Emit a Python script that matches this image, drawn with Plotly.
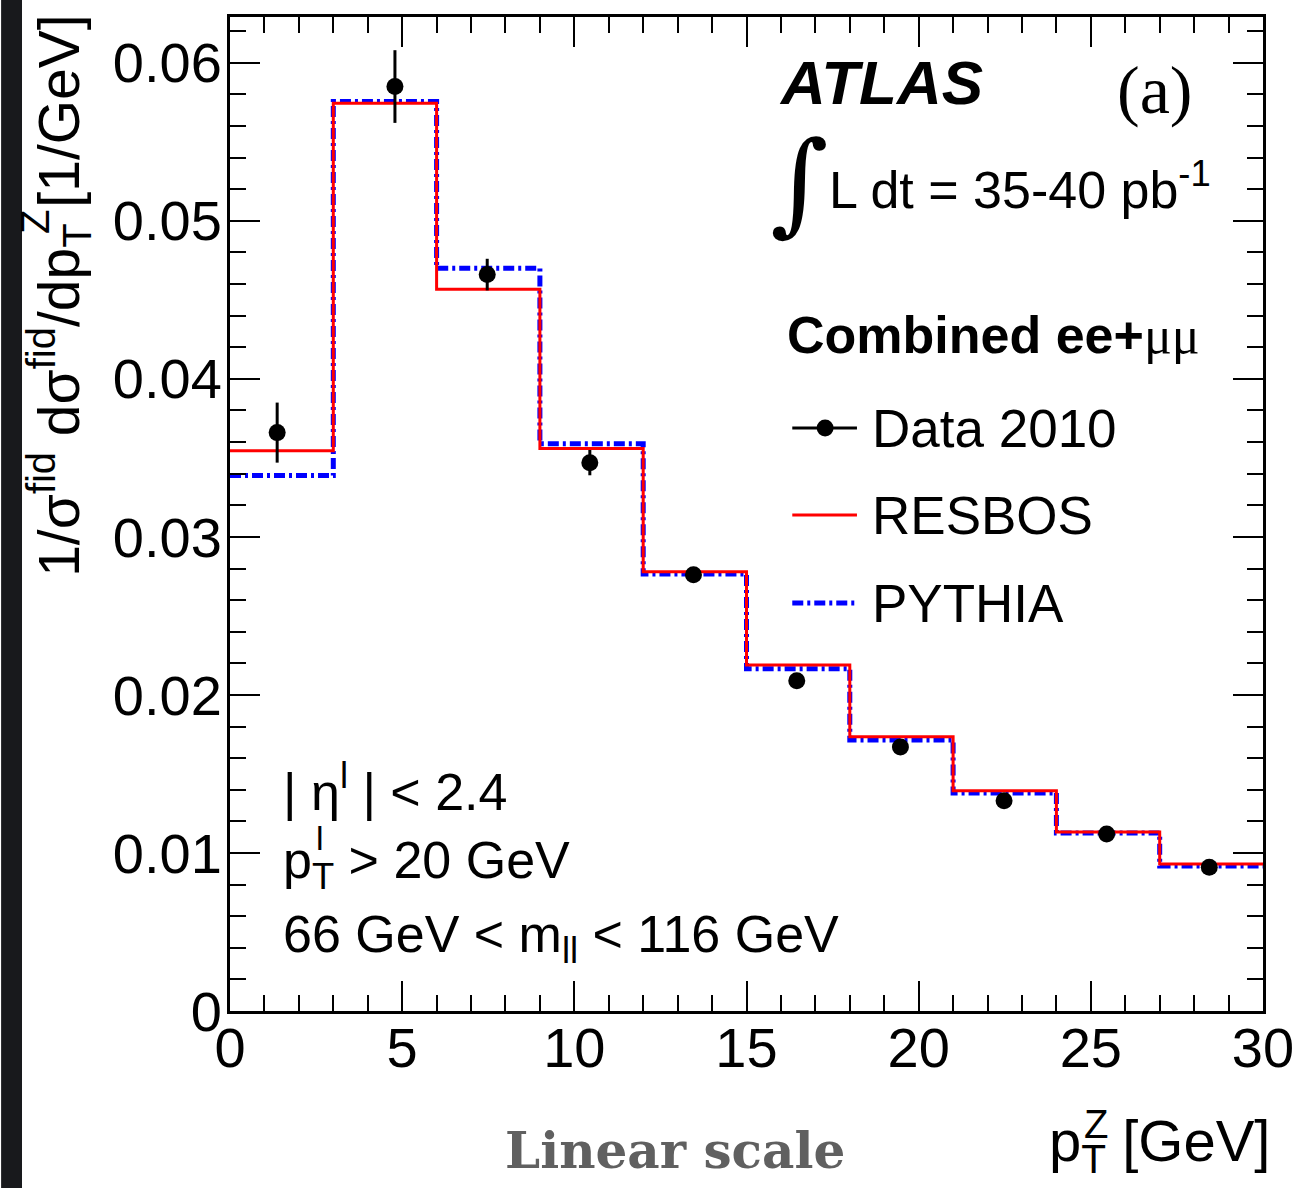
import plotly.graph_objects as go

# ---------------- data ----------------
bin_edges = [0, 3, 6, 9, 12, 15, 18, 21, 24, 27, 30]
data_x = [1.37, 4.79, 7.47, 10.45, 13.46, 16.46, 19.47, 22.48, 25.46, 28.44]
data_y = [0.0366, 0.0585, 0.0466, 0.0347, 0.0276, 0.0209, 0.0167, 0.0133, 0.0112, 0.0091]
data_err = [0.0019, 0.0023, 0.0010, 0.0008, 0.0005, 0.0003, 0.0002, 0.0002, 0.0002, 0.0002]
resbos = [0.03545, 0.05745, 0.04568, 0.03560, 0.02780, 0.02190, 0.01735, 0.01393, 0.01133, 0.00930]
pythia = [0.03388, 0.05755, 0.04700, 0.03590, 0.02765, 0.02165, 0.01715, 0.01380, 0.01127, 0.00918]

x_ticks = [0, 5, 10, 15, 20, 25, 30]
y_ticks = [0, 0.01, 0.02, 0.03, 0.04, 0.05, 0.06]
y_tick_text = ["0", "0.01", "0.02", "0.03", "0.04", "0.05", "0.06"]

W, H = 1306, 1188
L, R, T, B = 230, 1268, 17, 1011


def PX(px):
    return (px - L) / (R - L)


def PY(py):
    return (B - py) / (B - T)


SANS = "Liberation Sans, Arial, Helvetica, sans-serif"
SERIF = "Liberation Serif, Times New Roman, serif"

fig = go.Figure()

# PYTHIA (blue dash-dot) first, RESBOS on top
fig.add_trace(go.Scatter(
    x=bin_edges, y=pythia + [pythia[-1]], mode="lines", line_shape="hv",
    line=dict(color="#0000ff", width=5, dash="11px,4px,3px,4px"),
    name="PYTHIA", showlegend=False))
fig.add_trace(go.Scatter(
    x=bin_edges, y=resbos + [resbos[-1]], mode="lines", line_shape="hv",
    line=dict(color="#ff0000", width=3),
    name="RESBOS", showlegend=False))
fig.add_trace(go.Scatter(
    x=data_x, y=data_y, mode="markers",
    marker=dict(color="black", size=17),
    error_y=dict(type="data", array=data_err, visible=True, color="black", thickness=3, width=0),
    name="Data 2010", showlegend=False))

axis_common = dict(
    showgrid=False, zeroline=False, showline=True, linecolor="black", linewidth=3,
    mirror="ticks", ticks="inside", ticklen=30, tickwidth=2, tickcolor="black",
    tickfont=dict(family=SANS, size=56, color="black"),
)

fig.update_xaxes(
    range=[0, 30], tickvals=x_ticks, ticktext=[str(v) for v in x_ticks],
    minor=dict(ticks="inside", ticklen=16, tickwidth=2, tickcolor="black", dtick=1),
    ticklabelstandoff=-14,
    **axis_common)
fig.update_yaxes(
    range=[0, 0.0629], tickvals=y_ticks, ticktext=y_tick_text,
    minor=dict(ticks="inside", ticklen=16, tickwidth=2, tickcolor="black", dtick=0.002),
    ticklabelstandoff=-6,
    **axis_common)

shapes = []
# dark strip at left edge
shapes.append(dict(type="rect", xref="paper", yref="paper",
                   x0=PX(0), x1=PX(21), y0=PY(H), y1=PY(0),
                   fillcolor="#18191c", line=dict(width=0)))
# legend samples
shapes.append(dict(type="line", xref="paper", yref="paper",
                   x0=PX(795), x1=PX(860), y0=PY(428), y1=PY(428),
                   line=dict(color="black", width=3)))
shapes.append(dict(type="circle", xref="paper", yref="paper",
                   x0=PX(819.5), x1=PX(836.5), y0=PY(436.5), y1=PY(419.5),
                   fillcolor="black", line=dict(color="black", width=0)))
shapes.append(dict(type="line", xref="paper", yref="paper",
                   x0=PX(795), x1=PX(860), y0=PY(515), y1=PY(515),
                   line=dict(color="#ff0000", width=3)))
shapes.append(dict(type="line", xref="paper", yref="paper",
                   x0=PX(795), x1=PX(860), y0=PY(603), y1=PY(603),
                   line=dict(color="#0000ff", width=5, dash="11px,4px,3px,4px")))

ann = []


def txt(text, px, py, size=52, family=SANS, xanchor="left", yanchor="middle", color="black", angle=0):
    ann.append(dict(text=text, x=PX(px), y=PY(py), xref="paper", yref="paper",
                    xanchor=xanchor, yanchor=yanchor, showarrow=False, textangle=angle,
                    font=dict(family=family, size=size, color=color)))


# ATLAS label block
txt("<b><i>ATLAS</i></b>", 780, 82, size=62)
txt("(a)", 1199, 90, size=68, family=SERIF, xanchor="right")
txt("∫", 802, 182, size=112, family="DejaVu Serif", xanchor="center")
txt("L dt = 35-40 pb<sup>-1</sup>", 830, 186, size=52)

# legend
txt("<b>Combined ee+</b><span style=\"font-family:Liberation Serif\">μμ</span>", 788, 335, size=52)
txt("Data 2010", 873, 428, size=53)
txt("RESBOS", 873, 515, size=53)
txt("PYTHIA", 873, 603, size=53)

# selection cuts
txt("| η<sup>l</sup> | < 2.4", 281, 788, size=52)
txt("p<sub>T</sub> > 20 GeV", 281, 864, size=52)
txt("l", 320, 838, size=34, xanchor="center")
txt("66 GeV < m<sub>ll</sub> < 116 GeV", 281, 938, size=52)

# axis titles
txt("p<sub>T</sub> [GeV]", 1277, 1145, size=58, xanchor="right")
txt("Z", 1100, 1124, size=40, xanchor="center")
txt("1/σ<sup>fid</sup> dσ<sup>fid</sup>/dp<sub>T</sub> [1/GeV]", 58, 296, size=57,
    xanchor="center", yanchor="middle", angle=-90)
txt("Z", 34, 222, size=40, xanchor="center", angle=-90)

# caption
txt("<b>Linear scale</b>", 677, 1150, size=50, family="DejaVu Serif", xanchor="center", color="#606060")

fig.update_layout(
    width=W, height=H,
    margin=dict(l=L, r=W - R, t=T, b=H - B),
    paper_bgcolor="white", plot_bgcolor="white",
    shapes=shapes, annotations=ann, showlegend=False,
)

fig.write_html("out.html")
